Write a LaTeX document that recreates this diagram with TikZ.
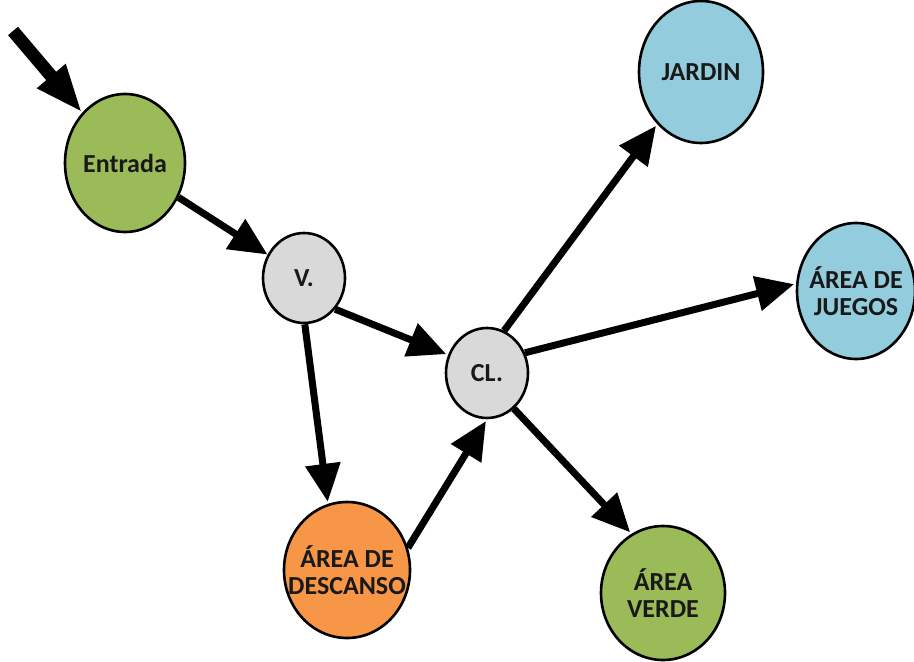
\documentclass[tikz,border=0pt]{standalone}
\usepackage{fontspec}
\setmainfont{Carlito}
\usetikzlibrary{shapes.geometric, arrows.meta}

\definecolor{verdeOliva}{HTML}{9BBB59}
\definecolor{grisClaro}{HTML}{D9D9D9}
\definecolor{azulClaro}{HTML}{93CDDD}
\definecolor{naranja}{HTML}{F79646}

\begin{document}
\begin{tikzpicture}[
    x=0.5pt, y=-0.5pt,
    every node/.style={font=\fontsize{13}{13.5}\selectfont\bfseries},
    lugar/.style={ellipse, draw=black, line width=1.3pt, inner sep=0pt},
    rotulo/.style={align=center, text=black!90},
    flecha/.style={-{Triangle[length=19pt,width=17pt]}, line width=3.5pt},
    acceso/.style={-{Triangle[length=24pt,width=17pt]}, line width=6.5pt}
]
\useasboundingbox (0,0) rectangle (914,662);

% recorrido de la casa
\node (entrada) [lugar, fill=verdeOliva, minimum width=60pt, minimum height=69pt, label={[rotulo]center:Entrada}] at (125,163) {};
\node (v) [lugar, fill=grisClaro, minimum width=41pt, minimum height=45pt, label={[rotulo]center:V.}] at (304,278) {};
\node (cl) [lugar, fill=grisClaro, minimum width=41pt, minimum height=45pt, label={[rotulo]center:CL.}] at (487,373) {};
\node (jardin) [lugar, fill=azulClaro, minimum width=62pt, minimum height=71pt, label={[rotulo]center:JARDIN}] at (701,72) {};
\node (juegos) [lugar, fill=azulClaro, minimum width=59pt, minimum height=68pt, label={[rotulo]center:ÁREA DE\\JUEGOS}] at (856,291) {};
\node (descanso) [lugar, fill=naranja, minimum width=63pt, minimum height=68pt, label={[rotulo]center:ÁREA DE\\DESCANSO}] at (347,570) {};
\node (verde) [lugar, fill=verdeOliva, minimum width=62pt, minimum height=67pt, label={[rotulo]center:ÁREA\\VERDE}] at (663,593) {};
\coordinate (inicio) at (13,31);

\draw [acceso] (inicio) -- (entrada);
\draw [flecha] (entrada) -- (v);
\draw [flecha, shorten >=1pt] (v.-45) -- (cl.155);
\draw [flecha, shorten >=1pt] (v.-89) -- (descanso.106);
\draw [flecha, shorten >=1pt] (descanso.20) -- (cl.south);
\draw [flecha, shorten >=1pt] (cl.68) -- (jardin.-130);
\draw [flecha, shorten >=1pt] (cl.28) -- (juegos.173);
\draw [flecha, shorten >=1pt] (cl.-53) -- (verde.118);
\end{tikzpicture}
\end{document}
